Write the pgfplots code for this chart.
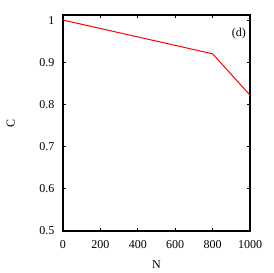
\documentclass[border=0pt]{standalone}
\usepackage{fontspec}
\setmainfont{Liberation Serif}
\usepackage{pgfplots}
\pgfplotsset{compat=1.18}
\begin{document}
\begin{tikzpicture}
\begin{axis}[
  name=ax,
  scale only axis,
  width=187pt, height=216pt,
  xmin=0, xmax=1000, ymin=0.5, ymax=1.012,
  xtick={0,200,400,600,800,1000},
  ytick={0.5,0.6,0.7,0.8,0.9,1},
  yticklabels={0.5,0.6,0.7,0.8,0.9,1},
  /pgf/number format/assume math mode=true,
  /pgf/number format/1000 sep={},
  tick align=inside,
  major tick length=3pt,
  tick style={black, line width=1pt},
  axis line style={line width=1.6pt},
  tick label style={font=\fontsize{12}{14}\selectfont},
  xticklabel style={yshift=-6pt},
  yticklabel style={xshift=-5pt},
  xlabel={N}, ylabel={C},
  label style={font=\fontsize{12}{14}\selectfont},
  ylabel style={at={(axis description cs:0,0.5)}, yshift=48pt, anchor=south, inner sep=0pt},
  xlabel style={at={(axis description cs:0.5,0)}, yshift=-34pt, anchor=center, inner sep=0pt},
  scaled x ticks=false,
]
\addplot[red, line width=1pt] coordinates {(0,1.0) (800,0.92) (1000,0.822)};
\node[anchor=north east, inner sep=0pt, font=\fontsize{12}{14}\selectfont] at (rel axis cs:1,1) [xshift=-4pt, yshift=-13pt] {(d)};
\end{axis}
\useasboundingbox ([shift={(-63pt,-42pt)}]ax.south west) rectangle ([shift={(23pt,15pt)}]ax.north east);
\end{tikzpicture}
\end{document}
